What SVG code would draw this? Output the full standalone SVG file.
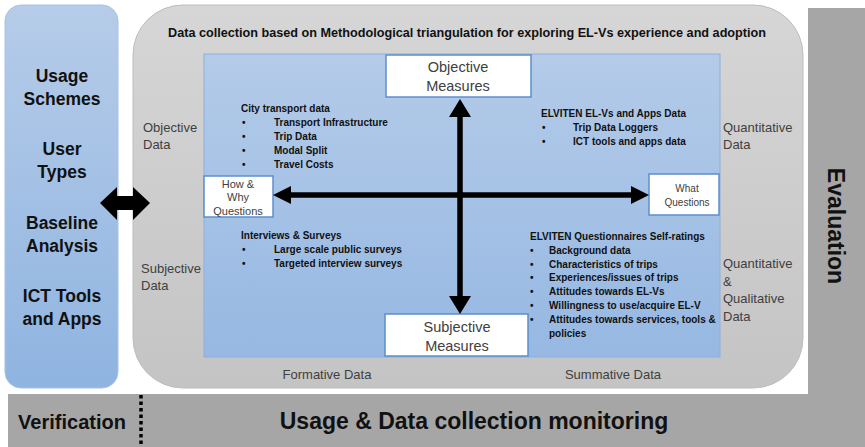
<svg xmlns="http://www.w3.org/2000/svg" width="865" height="447" viewBox="0 0 865 447">
  <style>
    text { font-family: "Liberation Sans", Arial, sans-serif; }
    .side { font-size: 17.5px; font-weight: bold; fill: #111; text-anchor: middle; }
    .lbl { font-size: 13px; fill: #404040; }
    .box { fill: #ffffff; stroke: #5b8fcc; stroke-width: 1.5; }
    .boxt { fill: #404040; text-anchor: middle; }
    .it { font-size: 10px; font-weight: bold; fill: #111; }
    .bar { fill: #a6a6a6; }
    .conn { stroke: #000; stroke-width: 5.5; fill: none; }
  </style>
  <defs>
    <linearGradient id="blueSide" x1="0" y1="0" x2="0" y2="1">
      <stop offset="0" stop-color="#b6cce9"/>
      <stop offset="1" stop-color="#8fb4e0"/>
    </linearGradient>
    <linearGradient id="blueInner" x1="0" y1="0" x2="0" y2="1">
      <stop offset="0" stop-color="#b4cbe9"/>
      <stop offset="1" stop-color="#96b8e2"/>
    </linearGradient>
    <linearGradient id="grayPanel" x1="0" y1="0" x2="0" y2="1">
      <stop offset="0" stop-color="#d6d6d6"/>
      <stop offset="1" stop-color="#c4c4c4"/>
    </linearGradient>
    <marker id="headV" markerUnits="userSpaceOnUse" markerWidth="22" markerHeight="22" viewBox="0 0 18 22" refX="0" refY="11" orient="auto-start-reverse">
      <path d="M0,0 L18,11 L0,22 z" fill="#000"/>
    </marker>
    <marker id="headH" markerUnits="userSpaceOnUse" markerWidth="18" markerHeight="18" viewBox="0 0 18 18" refX="0" refY="9" orient="auto-start-reverse">
      <path d="M0,0 L18,9 L0,18 z" fill="#000"/>
    </marker>
  </defs>

  <rect width="865" height="447" fill="#ffffff"/>

  <!-- outer frame bars -->
  <g id="evaluation">
    <rect class="bar" x="808" y="8" width="57" height="439"/>
    <text x="836" y="226" font-size="23" font-weight="bold" fill="#111" text-anchor="middle" transform="rotate(90 836 226)" dy="8">Evaluation</text>
  </g>
  <g id="monitoring">
    <rect class="bar" x="8" y="394" width="857" height="53"/>
    <line x1="141" y1="395" x2="141" y2="447" stroke="#000" stroke-width="3.5" stroke-dasharray="3.5 3"/>
    <text x="72" y="429" font-size="20" font-weight="bold" fill="#111" text-anchor="middle">Verification</text>
    <text x="474" y="429" font-size="23" font-weight="bold" fill="#111" text-anchor="middle">Usage &amp; Data collection monitoring</text>
  </g>

  <!-- left column of topics -->
  <g id="topics">
    <rect x="5" y="5" width="113" height="383" rx="16" fill="url(#blueSide)" stroke="#a7c2e6" stroke-width="1"/>
    <text class="side" x="62" y="82">Usage</text>
    <text class="side" x="62" y="105">Schemes</text>
    <text class="side" x="62" y="155">User</text>
    <text class="side" x="62" y="178">Types</text>
    <text class="side" x="62" y="229">Baseline</text>
    <text class="side" x="62" y="252">Analysis</text>
    <text class="side" x="62" y="302">ICT Tools</text>
    <text class="side" x="62" y="325">and Apps</text>
  </g>

  <!-- data collection panel -->
  <g id="panel">
    <rect x="133" y="5" width="670" height="383" rx="50" fill="url(#grayPanel)" stroke="#bdbdbd" stroke-width="1"/>
    <text x="467" y="37" font-size="12" font-weight="bold" fill="#111" text-anchor="middle" textLength="598" lengthAdjust="spacingAndGlyphs">Data collection based on Methodological triangulation for exploring EL-Vs experience and adoption</text>
    <text class="lbl" x="143" y="132">Objective</text>
    <text class="lbl" x="143" y="149">Data</text>
    <text class="lbl" x="141" y="273">Subjective</text>
    <text class="lbl" x="141" y="290">Data</text>
    <text class="lbl" x="723" y="132">Quantitative</text>
    <text class="lbl" x="723" y="149">Data</text>
    <text class="lbl" x="723" y="268">Quantitative</text>
    <text class="lbl" x="723" y="286">&amp;</text>
    <text class="lbl" x="723" y="303">Qualitative</text>
    <text class="lbl" x="723" y="321">Data</text>
    <text class="lbl" x="327" y="379" text-anchor="middle">Formative Data</text>
    <text class="lbl" x="613" y="379" text-anchor="middle">Summative Data</text>
  </g>

  <!-- quadrant area -->
  <g id="quadrants">
    <rect x="204" y="54" width="516" height="303" fill="url(#blueInner)" stroke="#8db0db" stroke-width="1"/>
    <text class="it" x="241" y="112">City transport data</text>
    <g class="it">
      <text x="242" y="126">•</text><text x="274" y="126">Transport Infrastructure</text>
      <text x="242" y="140">•</text><text x="274" y="140">Trip Data</text>
      <text x="242" y="154">•</text><text x="274" y="154">Modal Split</text>
      <text x="242" y="168">•</text><text x="274" y="168">Travel Costs</text>
    </g>
    <text class="it" x="241" y="239">Interviews &amp; Surveys</text>
    <g class="it">
      <text x="242" y="253">•</text><text x="274" y="253">Large scale public surveys</text>
      <text x="242" y="267">•</text><text x="274" y="267">Targeted interview surveys</text>
    </g>
    <text class="it" x="541" y="117">ELVITEN EL-Vs and Apps Data</text>
    <g class="it">
      <text x="542" y="131">•</text><text x="573" y="131">Trip Data Loggers</text>
      <text x="542" y="145">•</text><text x="573" y="145">ICT tools and apps data</text>
    </g>
    <text class="it" x="530" y="240">ELVITEN Questionnaires Self-ratings</text>
    <g class="it">
      <text x="530" y="254">•</text><text x="549" y="254">Background data</text>
      <text x="530" y="268">•</text><text x="549" y="268">Characteristics of trips</text>
      <text x="530" y="281">•</text><text x="549" y="281">Experiences/issues of trips</text>
      <text x="530" y="295">•</text><text x="549" y="295">Attitudes towards EL-Vs</text>
      <text x="530" y="309">•</text><text x="549" y="309">Willingness to use/acquire EL-V</text>
      <text x="530" y="323">•</text><text x="549" y="323">Attitudes towards services, tools &amp;</text>
      <text x="549" y="337">policies</text>
    </g>
  </g>

  <!-- measure and question boxes -->
  <g id="objective-measures">
    <rect class="box" x="386" y="55" width="145" height="42"/>
    <text class="boxt" x="458" y="72" font-size="14.5">Objective</text>
    <text class="boxt" x="458" y="91" font-size="14.5">Measures</text>
  </g>
  <g id="subjective-measures">
    <rect class="box" x="385" y="314" width="143" height="42"/>
    <text class="boxt" x="457" y="332" font-size="14.5">Subjective</text>
    <text class="boxt" x="457" y="351" font-size="14.5">Measures</text>
  </g>
  <g id="how-why">
    <rect class="box" x="204" y="176" width="69" height="41"/>
    <text class="boxt" x="238" y="188" font-size="11">How &amp;</text>
    <text class="boxt" x="238" y="201" font-size="11">Why</text>
    <text class="boxt" x="238" y="215" font-size="11">Questions</text>
  </g>
  <g id="what">
    <rect class="box" x="649" y="174" width="70" height="41"/>
    <text class="boxt" x="687" y="192" font-size="10">What</text>
    <text class="boxt" x="687" y="206" font-size="10">Questions</text>
  </g>

  <!-- connectors -->
  <g id="connectors">
    <line class="conn" x1="460" y1="117" x2="460" y2="296" marker-start="url(#headV)" marker-end="url(#headV)"/>
    <line class="conn" x1="291" y1="195" x2="631" y2="195" marker-start="url(#headH)" marker-end="url(#headH)"/>
    <path d="M100,203 L117,187 L117,196 L133,196 L133,187 L150,203 L133,220 L133,210 L117,210 L117,220 z" fill="#000"/>
  </g>
</svg>
